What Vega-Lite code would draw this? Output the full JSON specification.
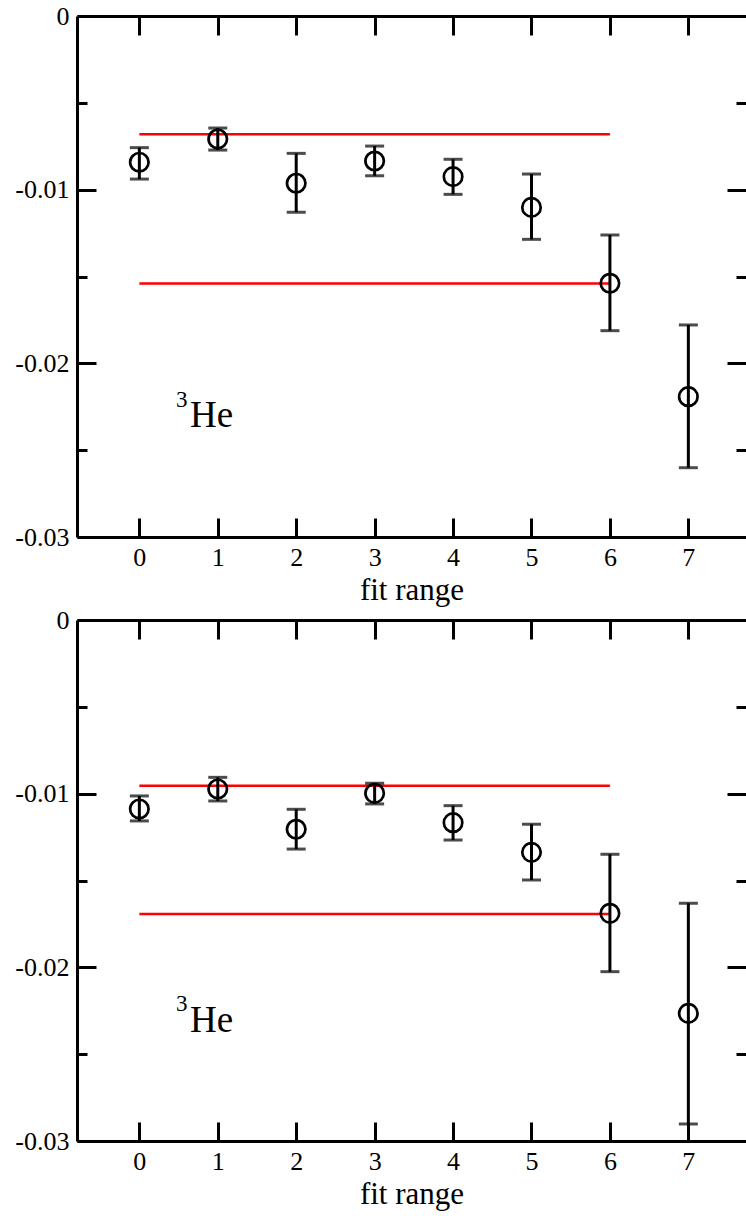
{
  "$schema": "https://vega.github.io/schema/vega-lite/v6.json",
  "autosize": {"type": "none"},
  "padding": {"left": 77, "top": 16, "right": 669, "bottom": 1200},
  "background": "white",
  "config": {"view": {"stroke": null}, "font": "Liberation Serif", "axis": {"labelFont": "Liberation Serif", "titleFont": "Liberation Serif"}},
  "bounds": "flush",
  "spacing": 83,
  "datasets": {
    "pts": [
      {"panel": "a", "x": 0, "y": -0.00842, "lo": -0.00939, "hi": -0.00758},
      {"panel": "a", "x": 1, "y": -0.00708, "lo": -0.00772, "hi": -0.00645},
      {"panel": "a", "x": 2, "y": -0.00963, "lo": -0.0113, "hi": -0.00791},
      {"panel": "a", "x": 3, "y": -0.00835, "lo": -0.0092, "hi": -0.00749},
      {"panel": "a", "x": 4, "y": -0.00925, "lo": -0.01027, "hi": -0.00825},
      {"panel": "a", "x": 5, "y": -0.01102, "lo": -0.01286, "hi": -0.0091},
      {"panel": "a", "x": 6, "y": -0.01539, "lo": -0.01812, "hi": -0.01261},
      {"panel": "a", "x": 7, "y": -0.02192, "lo": -0.02601, "hi": -0.01779},
      {"panel": "b", "x": 0, "y": -0.01088, "lo": -0.01157, "hi": -0.01013},
      {"panel": "b", "x": 1, "y": -0.00973, "lo": -0.01042, "hi": -0.00906},
      {"panel": "b", "x": 2, "y": -0.01205, "lo": -0.01319, "hi": -0.0109},
      {"panel": "b", "x": 3, "y": -0.00998, "lo": -0.01059, "hi": -0.0094},
      {"panel": "b", "x": 4, "y": -0.01167, "lo": -0.01267, "hi": -0.01069},
      {"panel": "b", "x": 5, "y": -0.01338, "lo": -0.01497, "hi": -0.01176},
      {"panel": "b", "x": 6, "y": -0.01689, "lo": -0.02025, "hi": -0.01349},
      {"panel": "b", "x": 7, "y": -0.02265, "lo": -0.02902, "hi": -0.01631}
    ],
    "fits": [
      {"panel": "a", "x1": 0, "x2": 6, "y": -0.00681},
      {"panel": "a", "x1": 0, "x2": 6, "y": -0.01541},
      {"panel": "b", "x1": 0, "x2": 6, "y": -0.00954},
      {"panel": "b", "x1": 0, "x2": 6, "y": -0.01693}
    ],
    "labs": [
      {"panel": "a", "kind": "main", "x": 0.646, "y": -0.02365, "t": "He"},
      {"panel": "a", "kind": "sup", "x": 0.467, "y": -0.02249, "t": "3"},
      {"panel": "b", "kind": "main", "x": 0.646, "y": -0.02371, "t": "He"},
      {"panel": "b", "kind": "sup", "x": 0.467, "y": -0.02254, "t": "3"}
    ]
  },
  "vconcat": [
    {
      "width": 669,
      "height": 521,
      "resolve": {"axis": {"x": "independent", "y": "independent"}},
      "layer": [
        {
          "data": {"name": "fits"},
          "transform": [{"filter": "datum.panel == 'a'"}],
          "mark": {"type": "rule", "color": "#ff0000", "strokeWidth": 2.5},
          "encoding": {
            "x": {"field": "x1", "type": "quantitative", "scale": {"domain": [-0.795, 7.735], "nice": false, "zero": false},
              "axis": {"orient": "bottom", "values": [0, 1, 2, 3, 4, 5, 6, 7], "format": "d", "grid": false,
                "title": "fit range", "titleFont": "Liberation Serif", "titleFontSize": 31, "titleFontWeight": "normal", "titleColor": "black", "titleBaseline": "alphabetic", "titleY": 62,
                "labelFont": "Liberation Serif", "labelFontSize": 26, "labelColor": "black", "labelBaseline": "alphabetic", "labelPadding": 47, "labelFlush": false, "labelOverlap": false,
                "tickSize": -19, "tickWidth": 3, "tickColor": "black", "domainColor": "black", "domainWidth": 3}},
            "x2": {"field": "x2"},
            "y": {"field": "y", "type": "quantitative", "scale": {"domain": [-0.03, 0], "nice": false, "zero": false},
              "axis": {"orient": "left", "values": [0, -0.005, -0.01, -0.015, -0.02, -0.025, -0.03], "grid": false, "title": null,
                "labelExpr": "round(abs(datum.value)*1000) % 10 == 0 ? replace(format(datum.value, '.2~f'), '\u2212', '-') : ''",
                "labelFont": "Liberation Serif", "labelFontSize": 26, "labelColor": "black", "labelAlign": "right", "labelBaseline": "middle", "labelPadding": 27, "labelFlush": false, "labelOverlap": false,
                "tickSize": {"condition": {"test": "round(abs(datum.value)*1000) % 10 == 0", "value": -19}, "value": -10},
                "tickWidth": 3, "tickColor": "black", "domainColor": "black", "domainWidth": 3}}
          }
        },
        {
          "data": {"name": "pts"},
          "transform": [{"filter": "datum.panel == 'a'"}],
          "mark": {"type": "rule", "color": "black", "strokeWidth": 3},
          "encoding": {
            "x": {"field": "x", "type": "quantitative",
              "axis": {"orient": "top", "values": [0, 1, 2, 3, 4, 5, 6, 7], "labels": false, "grid": false, "title": null,
                "tickSize": -19, "tickWidth": 3, "tickColor": "black", "domainColor": "black", "domainWidth": 3}},
            "y": {"field": "lo", "type": "quantitative",
              "axis": {"orient": "right", "values": [0, -0.005, -0.01, -0.015, -0.02, -0.025, -0.03], "labels": false, "grid": false, "title": null, "domain": false,
                "tickSize": {"condition": {"test": "round(abs(datum.value)*1000) % 10 == 0", "value": -19}, "value": -10},
                "tickWidth": 3, "tickColor": "black"}},
            "y2": {"field": "hi"}
          }
        },
        {
          "data": {"name": "pts"},
          "transform": [{"filter": "datum.panel == 'a'"}],
          "mark": {"type": "tick", "orient": "horizontal", "color": "black", "size": 19, "thickness": 3},
          "encoding": {
            "x": {"field": "x", "type": "quantitative", "axis": null},
            "y": {"field": "lo", "type": "quantitative", "axis": null}
          }
        },
        {
          "data": {"name": "pts"},
          "transform": [{"filter": "datum.panel == 'a'"}],
          "mark": {"type": "tick", "orient": "horizontal", "color": "black", "size": 19, "thickness": 3},
          "encoding": {
            "x": {"field": "x", "type": "quantitative", "axis": null},
            "y": {"field": "hi", "type": "quantitative", "axis": null}
          }
        },
        {
          "data": {"name": "pts"},
          "transform": [{"filter": "datum.panel == 'a'"}],
          "mark": {"type": "point", "shape": "circle", "filled": false, "stroke": "black", "strokeWidth": 2.7, "size": 340, "opacity": 1},
          "encoding": {
            "x": {"field": "x", "type": "quantitative", "axis": null},
            "y": {"field": "y", "type": "quantitative", "axis": null}
          }
        },
        {
          "data": {"name": "labs"},
          "transform": [{"filter": "datum.panel == 'a' && datum.kind == 'main'"}],
          "mark": {"type": "text", "align": "left", "baseline": "alphabetic", "font": "Liberation Serif", "fontSize": 37, "color": "black"},
          "encoding": {
            "x": {"field": "x", "type": "quantitative", "axis": null},
            "y": {"field": "y", "type": "quantitative", "axis": null},
            "text": {"field": "t"}
          }
        },
        {
          "data": {"name": "labs"},
          "transform": [{"filter": "datum.panel == 'a' && datum.kind == 'sup'"}],
          "mark": {"type": "text", "align": "left", "baseline": "alphabetic", "font": "Liberation Serif", "fontSize": 23, "color": "black"},
          "encoding": {
            "x": {"field": "x", "type": "quantitative", "axis": null},
            "y": {"field": "y", "type": "quantitative", "axis": null},
            "text": {"field": "t"}
          }
        }
      ]
    },
    {
      "width": 669,
      "height": 521,
      "resolve": {"axis": {"x": "independent", "y": "independent"}},
      "layer": [
        {
          "data": {"name": "fits"},
          "transform": [{"filter": "datum.panel == 'b'"}],
          "mark": {"type": "rule", "color": "#ff0000", "strokeWidth": 2.5},
          "encoding": {
            "x": {"field": "x1", "type": "quantitative", "scale": {"domain": [-0.795, 7.735], "nice": false, "zero": false},
              "axis": {"orient": "bottom", "values": [0, 1, 2, 3, 4, 5, 6, 7], "format": "d", "grid": false,
                "title": "fit range", "titleFont": "Liberation Serif", "titleFontSize": 31, "titleFontWeight": "normal", "titleColor": "black", "titleBaseline": "alphabetic", "titleY": 62,
                "labelFont": "Liberation Serif", "labelFontSize": 26, "labelColor": "black", "labelBaseline": "alphabetic", "labelPadding": 47, "labelFlush": false, "labelOverlap": false,
                "tickSize": -19, "tickWidth": 3, "tickColor": "black", "domainColor": "black", "domainWidth": 3}},
            "x2": {"field": "x2"},
            "y": {"field": "y", "type": "quantitative", "scale": {"domain": [-0.03, 0], "nice": false, "zero": false},
              "axis": {"orient": "left", "values": [0, -0.005, -0.01, -0.015, -0.02, -0.025, -0.03], "grid": false, "title": null,
                "labelExpr": "round(abs(datum.value)*1000) % 10 == 0 ? replace(format(datum.value, '.2~f'), '\u2212', '-') : ''",
                "labelFont": "Liberation Serif", "labelFontSize": 26, "labelColor": "black", "labelAlign": "right", "labelBaseline": "middle", "labelPadding": 27, "labelFlush": false, "labelOverlap": false,
                "tickSize": {"condition": {"test": "round(abs(datum.value)*1000) % 10 == 0", "value": -19}, "value": -10},
                "tickWidth": 3, "tickColor": "black", "domainColor": "black", "domainWidth": 3}}
          }
        },
        {
          "data": {"name": "pts"},
          "transform": [{"filter": "datum.panel == 'b'"}],
          "mark": {"type": "rule", "color": "black", "strokeWidth": 3},
          "encoding": {
            "x": {"field": "x", "type": "quantitative",
              "axis": {"orient": "top", "values": [0, 1, 2, 3, 4, 5, 6, 7], "labels": false, "grid": false, "title": null,
                "tickSize": -19, "tickWidth": 3, "tickColor": "black", "domainColor": "black", "domainWidth": 3}},
            "y": {"field": "lo", "type": "quantitative",
              "axis": {"orient": "right", "values": [0, -0.005, -0.01, -0.015, -0.02, -0.025, -0.03], "labels": false, "grid": false, "title": null, "domain": false,
                "tickSize": {"condition": {"test": "round(abs(datum.value)*1000) % 10 == 0", "value": -19}, "value": -10},
                "tickWidth": 3, "tickColor": "black"}},
            "y2": {"field": "hi"}
          }
        },
        {
          "data": {"name": "pts"},
          "transform": [{"filter": "datum.panel == 'b'"}],
          "mark": {"type": "tick", "orient": "horizontal", "color": "black", "size": 19, "thickness": 3},
          "encoding": {
            "x": {"field": "x", "type": "quantitative", "axis": null},
            "y": {"field": "lo", "type": "quantitative", "axis": null}
          }
        },
        {
          "data": {"name": "pts"},
          "transform": [{"filter": "datum.panel == 'b'"}],
          "mark": {"type": "tick", "orient": "horizontal", "color": "black", "size": 19, "thickness": 3},
          "encoding": {
            "x": {"field": "x", "type": "quantitative", "axis": null},
            "y": {"field": "hi", "type": "quantitative", "axis": null}
          }
        },
        {
          "data": {"name": "pts"},
          "transform": [{"filter": "datum.panel == 'b'"}],
          "mark": {"type": "point", "shape": "circle", "filled": false, "stroke": "black", "strokeWidth": 2.7, "size": 340, "opacity": 1},
          "encoding": {
            "x": {"field": "x", "type": "quantitative", "axis": null},
            "y": {"field": "y", "type": "quantitative", "axis": null}
          }
        },
        {
          "data": {"name": "labs"},
          "transform": [{"filter": "datum.panel == 'b' && datum.kind == 'main'"}],
          "mark": {"type": "text", "align": "left", "baseline": "alphabetic", "font": "Liberation Serif", "fontSize": 37, "color": "black"},
          "encoding": {
            "x": {"field": "x", "type": "quantitative", "axis": null},
            "y": {"field": "y", "type": "quantitative", "axis": null},
            "text": {"field": "t"}
          }
        },
        {
          "data": {"name": "labs"},
          "transform": [{"filter": "datum.panel == 'b' && datum.kind == 'sup'"}],
          "mark": {"type": "text", "align": "left", "baseline": "alphabetic", "font": "Liberation Serif", "fontSize": 23, "color": "black"},
          "encoding": {
            "x": {"field": "x", "type": "quantitative", "axis": null},
            "y": {"field": "y", "type": "quantitative", "axis": null},
            "text": {"field": "t"}
          }
        }
      ]
    }
  ]
}
